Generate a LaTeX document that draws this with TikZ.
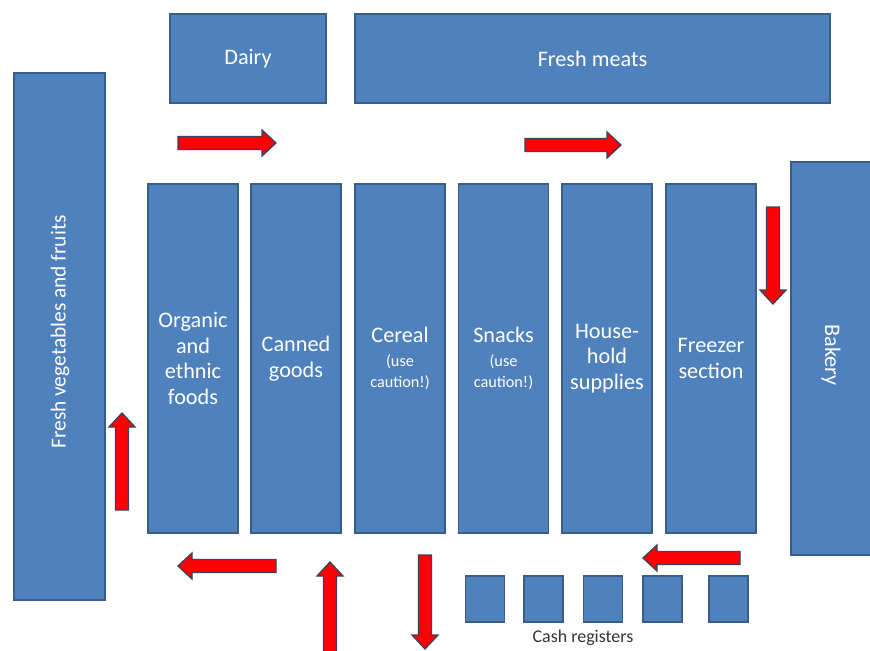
\documentclass[tikz,border=0pt]{standalone}
\usepackage{fontspec}
\setmainfont{Carlito}
\usetikzlibrary{calc}
\definecolor{boxfill}{HTML}{4F81BD}
\definecolor{boxline}{HTML}{385D8A}
\definecolor{arrline}{HTML}{3A4260}
\definecolor{labelgray}{HTML}{333333}
\newcommand\mainfont{\fontsize{22.3}{25.5}\selectfont}
\newcommand\smallnote{\fontsize{16.3}{21}\selectfont}
\newcommand\blockarrow[2]{%
  \coordinate (ArN) at ($(#2)!14bp!(#1)$);
  \filldraw[arrowstyle]
    ($(#1)!6.5bp!90:(#2)$) -- ($(ArN)!6.5bp!90:(#2)$) -- ($(ArN)!13bp!90:(#2)$)
    -- (#2)
    -- ($(ArN)!13bp!-90:(#2)$) -- ($(ArN)!6.5bp!-90:(#2)$) -- ($(#1)!6.5bp!-90:(#2)$) -- cycle;}
\begin{document}
\begin{tikzpicture}[x=1bp,y=-1bp,
  area/.style={fill=boxfill,draw=boxline,line width=1.2bp,inner sep=0pt,
    text=white,font=\mainfont,align=center},
  aisle/.style={area,minimum width=90bp,minimum height=349bp},
  register/.style={fill=boxfill,draw=boxline,line width=1.2bp,inner sep=0pt,
    minimum width=39bp,minimum height=46bp},
  arrowstyle/.style={fill=red,draw=arrline,line width=1.3bp,line join=miter}]
\useasboundingbox (0,0) rectangle (870,651);
\clip (0,0) rectangle (870,651);
\fill[white] (0,0) rectangle (870,651);

\node[area,minimum width=156bp,minimum height=89bp] (dairy) at (248,58.5) {Dairy};
\node[area,minimum width=475bp,minimum height=89bp] (meats) at (592.5,58.5) {Fresh meats};
\node[area,minimum width=91bp,minimum height=527bp] (veg) at (59.5,336.5) {};
\node[text=white,font=\fontsize{21.5}{25}\selectfont,rotate=90] (vegtext) at (60,332) {Fresh vegetables and fruits};
\node[area,minimum width=80bp,minimum height=393bp] (bakery) at (831,358.5) {};
\node[text=white,font=\mainfont,rotate=-90] (bakerytext) at (831,355) {Bakery};

\node[aisle] (organic) at (193,358.5) {Organic\\and\\ethnic\\foods};
\node[aisle] (canned) at (296,358.5) {Canned\\goods};
\node[aisle] (cereal) at (400,358.5) {Cereal\\[-2pt]\smallnote(use\\[-4.5pt]\smallnote caution!)};
\node[aisle] (snacks) at (503.5,358.5) {Snacks\\[-2pt]\smallnote(use\\[-4.5pt]\smallnote caution!)};
\node[aisle] (household) at (607,358.5) {House-\\hold\\supplies};
\node[aisle] (freezer) at (711,358.5) {Freezer\\section};

\node[register] (r1) at (485,599) {};
\node[register] (r2) at (543.5,599) {};
\node[register] (r3) at (603,599) {};
\node[register] (r4) at (662.5,599) {};
\node[register] (r5) at (728.5,599) {};
\node[text=labelgray,font=\fontsize{18}{21}\selectfont] (cashlabel) at (583,638) {Cash registers};

\coordinate (a1t) at (178,143); \coordinate (a1h) at (276,143);
\coordinate (a2t) at (525,145); \coordinate (a2h) at (621,145);
\coordinate (a3t) at (773,207); \coordinate (a3h) at (773,304);
\coordinate (a4t) at (122,510); \coordinate (a4h) at (122,413);
\coordinate (a5t) at (276,566); \coordinate (a5h) at (178,566);
\coordinate (a6t) at (330,660); \coordinate (a6h) at (330,562);
\coordinate (a7t) at (425,555); \coordinate (a7h) at (425,649);
\coordinate (a8t) at (740,558); \coordinate (a8h) at (643,558);
\blockarrow{a1t}{a1h}
\blockarrow{a2t}{a2h}
\blockarrow{a3t}{a3h}
\blockarrow{a4t}{a4h}
\blockarrow{a5t}{a5h}
\blockarrow{a6t}{a6h}
\blockarrow{a7t}{a7h}
\blockarrow{a8t}{a8h}
\end{tikzpicture}
\end{document}
